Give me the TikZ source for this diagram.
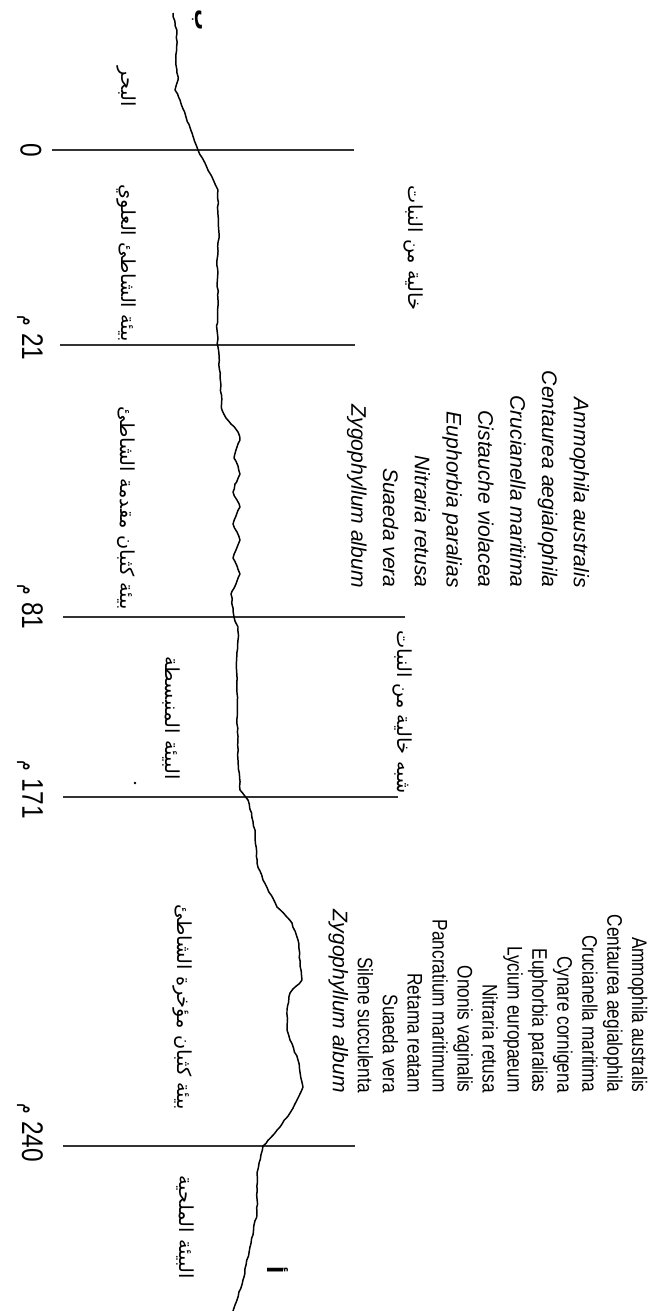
\documentclass[tikz,border=0pt]{standalone}
\usepackage{fontspec}
\setmainfont{Liberation Sans}
\newfontfamily\arabicfont[Script=Arabic]{DejaVu Sans}
\TeXXeTstate=1
\usetikzlibrary{decorations.pathmorphing}

\tikzset{
  cutline/.style={line width=0.9pt, black!80},
  profile/.style={line width=0.85pt, line join=round, decorate,
    decoration={random steps, segment length=2.5pt, amplitude=0.35pt}},
  zone/.style={rotate=-90, inner sep=0pt, font=\arabicfont\fontsize{11}{13}\selectfont},
  dist/.style={rotate=-90, inner sep=0pt, font=\fontsize{17}{19}\selectfont},
  species/.style={rotate=-90, anchor=east, align=right, inner sep=0pt},
}
\newcommand{\nrw}[1]{\scalebox{0.82}[1]{#1}}
\newcommand{\tall}[1]{\scalebox{0.82}[1]{#1}}

\begin{document}
\begin{tikzpicture}[x=0.02cm, y=-0.02cm]
  \useasboundingbox (0,0) rectangle (651,1311);

  % transect marks
  \foreach \ypos/\xa/\xb in {150/52/354, 345/60/355, 617/63/405, 797/63/398, 1146/63/355}
    \draw[cutline] (\xa,\ypos) -- (\xb,\ypos);

  % distances
  \node[dist] (d0) at (31,150) {\tall{0}};
  \node[dist] (d21) at (30,338) {\tall{\beginR\beginL 21\endL{} {\arabicfont\fontsize{12}{14}\selectfont م}\endR}};
  \node[dist] (d81) at (30,607) {\tall{\beginR\beginL 81\endL{} {\arabicfont\fontsize{12}{14}\selectfont م}\endR}};
  \node[dist] (d171) at (30,790) {\tall{\beginR\beginL 171\endL{} {\arabicfont\fontsize{12}{14}\selectfont م}\endR}};
  \node[dist] (d240) at (30,1133) {\tall{\beginR\beginL 240\endL{} {\arabicfont\fontsize{12}{14}\selectfont م}\endR}};

  % ground profile
  \draw[profile] (173,13) -- (177,33) -- (176,60) -- (178,80) -- (175,90) -- (180,100)
    -- (186,117) -- (192,133) -- (198,150) -- (205,163) -- (212,177) -- (218,190)
    -- (218,215) -- (219,233) -- (217,260) -- (218,300) -- (217,330) -- (218,347)
    -- (220,377) -- (222,410) -- (226,418) -- (231,424) -- (238,432) -- (240,440)
    -- (236,450) -- (234,458) -- (238,466) -- (240,474) -- (235,484) -- (233,492)
    -- (237,500) -- (240,507) -- (236,516) -- (233,524) -- (237,532) -- (240,540)
    -- (236,550) -- (233,558) -- (237,566) -- (240,574) -- (236,584) -- (231,594)
    -- (233,608) -- (234,617) -- (238,627) -- (238,640) -- (237,652) -- (237,693)
    -- (238,760) -- (240,790) -- (248,800) -- (255,830) -- (257,863) -- (263,880)
    -- (277,907) -- (292,923) -- (298,940) -- (302,980) -- (290,993) -- (287,1010)
    -- (287,1030) -- (290,1040) -- (298,1060) -- (303,1087) -- (297,1100)
    -- (290,1113) -- (280,1127) -- (263,1146) -- (257,1173) -- (257,1213)
    -- (250,1247) -- (243,1280) -- (233,1311);
  \node[zone, font=\arabicfont\bfseries\fontsize{12}{14}\selectfont] (endb) at (197,20) {ب};
  \node[zone, font=\arabicfont\bfseries\fontsize{12}{14}\selectfont] (enda) at (278,1270) {أ};
  \fill (135,783) circle (1.3);

  % zones
  \node[zone] (sea) at (126,87) {\beginR البحر\endR};
  \node[zone] (beach) at (126,263) {\beginR بيئة الشاطئ العلوي\endR};
  \node[zone] (fore) at (126,508) {\beginR بيئة كثبان مقدمة الشاطئ\endR};
  \node[zone] (flat) at (171,718) {\beginR البيئة المنبسطة\endR};
  \node[zone] (back) at (182,1007) {\beginR بيئة كثبان مؤخرة الشاطئ\endR};
  \node[zone] (salt) at (185,1227) {\beginR البيئة الملحية\endR};
  \node[zone] (bare) at (413,248) {\beginR خالية من النبات\endR};
  \node[zone] (semibare) at (402,712) {\beginR شبه خالية من النبات\endR};

  % plant lists
  \node[species, font=\fontsize{12}{18.1}\selectfont\itshape] (forelist) at (468,588) {
    Ammophila australis\\ Centaurea aegialophila\\ Crucianella maritima\\
    Cistauche violacea\\ Euphorbia paralias\\ Nitraria retusa\\
    Suaeda vera\\ Zygophyllum album};
  \node[species, font=\fontsize{12}{14.2}\selectfont] (backlist) at (488,1093) {
    \nrw{Ammophila australis}\\ \nrw{Centaurea aegialophila}\\ \nrw{Crucianella maritima}\\
    \nrw{Cynare cornigena}\\ \nrw{Euphorbia paralias}\\ \nrw{Lycium europaeum}\\
    \nrw{Nitraria retusa}\\ \nrw{Ononis vaginalis}\\ \nrw{Pancratium maritimum}\\
    \nrw{Retama reatam}\\ \nrw{Suaeda vera}\\ \nrw{Silene succulenta}\\
    {\itshape Zygophyllum album}};
\end{tikzpicture}
\end{document}
